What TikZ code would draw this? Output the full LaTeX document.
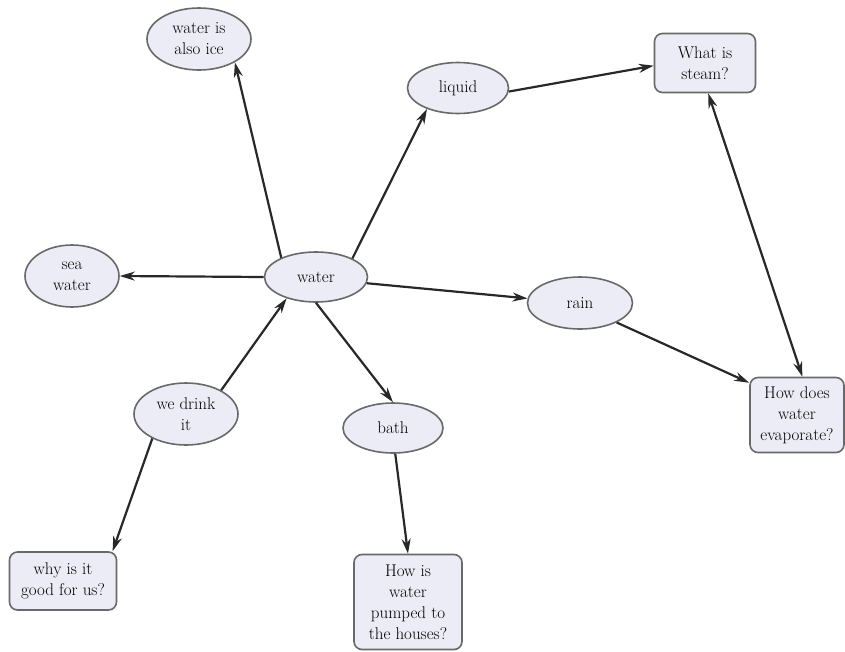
\documentclass[tikz,border=0pt]{standalone}
\usetikzlibrary{shapes.geometric,arrows.meta}

\definecolor{nodefill}{RGB}{236,236,246}
\definecolor{nodeline}{RGB}{105,105,105}
\definecolor{linkcol}{RGB}{40,40,40}

\begin{document}
\begin{tikzpicture}[x=1pt, y=-1pt,
    >={Stealth[length=15pt,width=9pt]},
    idea/.style={ellipse, draw=nodeline, line width=1.6pt, fill=nodefill,
        inner sep=0pt, align=center, font=\fontsize{17}{21}\selectfont},
    question/.style={rectangle, rounded corners=8pt, draw=nodeline, line width=1.6pt,
        fill=nodefill, inner sep=0pt, align=center, font=\fontsize{17}{21}\selectfont},
    link/.style={->, draw=linkcol, line width=2.2pt}]
                \useasboundingbox (0,0) rectangle (845,651);
                \node[idea, minimum width=104pt, minimum height=62pt] (ice) at (199,39) {water is\\also ice};
                \node[idea, minimum width=101pt, minimum height=51pt] (liquid) at (458,88) {liquid};
                \node[question, minimum width=101pt, minimum height=59pt] (steam) at (705,63) {What is\\steam?};
                \node[idea, minimum width=94pt, minimum height=62pt] (sea) at (72,276) {sea\\water};
                \node[idea, minimum width=103pt, minimum height=50pt] (water) at (316,277) {water};
                \node[idea, minimum width=105pt, minimum height=52pt] (rain) at (580,303) {rain};
                \node[question, minimum width=94pt, minimum height=75pt] (evap) at (797,415) {How does\\water\\evaporate?};
                \node[idea, minimum width=104pt, minimum height=62pt] (drink) at (186,414) {we drink\\it};
                \node[idea, minimum width=100pt, minimum height=50pt] (bath) at (393,428) {bath};
                \node[question, minimum width=107pt, minimum height=58pt] (good) at (63,581) {why is it\\good for us?};
                \node[question, minimum width=108pt, minimum height=95pt] (pumped) at (408,602) {How is\\water\\pumped to\\the houses?};
                \draw[link] (water.151) -- (ice.-33);
                \draw[link] (water.27) -- (liquid.214);
                \draw[link] (liquid.-4) -- (steam.183);
                \draw[link] (water.west) -- (sea.east);
                \draw[link] (water.-7) -- (rain.175);
                \draw[link] (rain.-28) -- (evap.146);
                \draw[link, <->] (steam.-84) -- (evap.82);
                \draw[link] (water.south) -- (bath.north);
                \draw[link] (bath.-85) -- (pumped.north);
                \draw[link] (drink.34) -- (water.216);
                \draw[link] (drink.216) -- (good.31);
\end{tikzpicture}
\end{document}
